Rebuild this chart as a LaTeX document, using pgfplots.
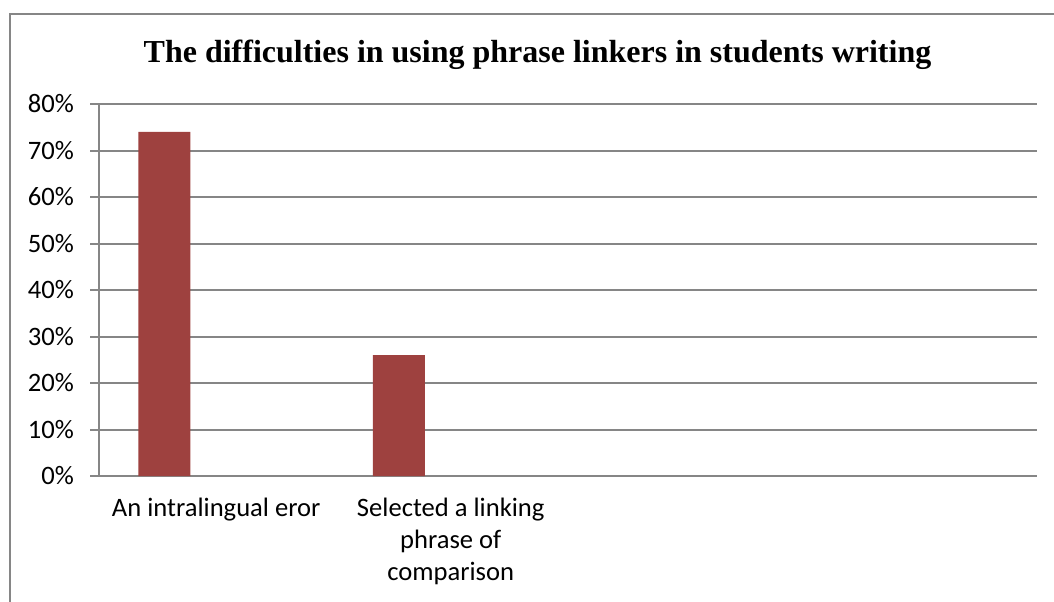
\documentclass[border=0pt]{standalone}
\usepackage{pgfplots}
\pgfplotsset{compat=1.18}
\usepackage{fontspec}
\setmainfont{Liberation Serif}
\newfontfamily\calibri{Carlito}
\definecolor{barred}{RGB}{158,65,63}
\definecolor{gridgray}{RGB}{134,134,134}
\definecolor{framegray}{RGB}{134,134,134}
\begin{document}
\begin{tikzpicture}
\path[use as bounding box] (0,0) rectangle (527pt,300.5pt);
\draw[framegray, line width=0.9pt] (5pt,-1pt) -- (5pt,293.5pt) -- (530pt,293.5pt);
\node[anchor=base, font=\bfseries\fontsize{16}{19}\selectfont] at (268.75pt,269pt) {The difficulties in using phrase linkers in students writing};
\begin{axis}[
  at={(49.5pt,62.5pt)}, anchor=south west,
  scale only axis, width=469pt, height=186pt,
  xmin=-0.5, xmax=3.5, ymin=0, ymax=80,
  axis lines=left, axis line style={-, draw=gridgray, line width=1pt},
  ytick={0,10,...,80},
  yticklabel={\pgfmathprintnumber{\tick}\%},
  /pgf/number format/assume math mode=true,
  ymajorgrids, grid style={draw=gridgray, line width=1pt},
  tick align=outside, major tick length=4.5pt,
  ytick style={draw=gridgray, line width=1pt},
  xtick={0,1,2,3},
  xticklabels={An intralingual eror,{Selected a linking\\phrase of\\comparison},{},{}},
  xtick style={draw=none},
  ticklabel style={font=\calibri\fontsize{13.3}{16}\selectfont},
  xticklabel style={align=center, yshift=-3pt},
  yticklabel style={xshift=-4.5pt},
]
\addplot[ybar, bar width=26pt, bar shift=-26pt, fill=barred, draw=none] coordinates {(0,74) (1,26)};
\end{axis}
\end{tikzpicture}
\end{document}
